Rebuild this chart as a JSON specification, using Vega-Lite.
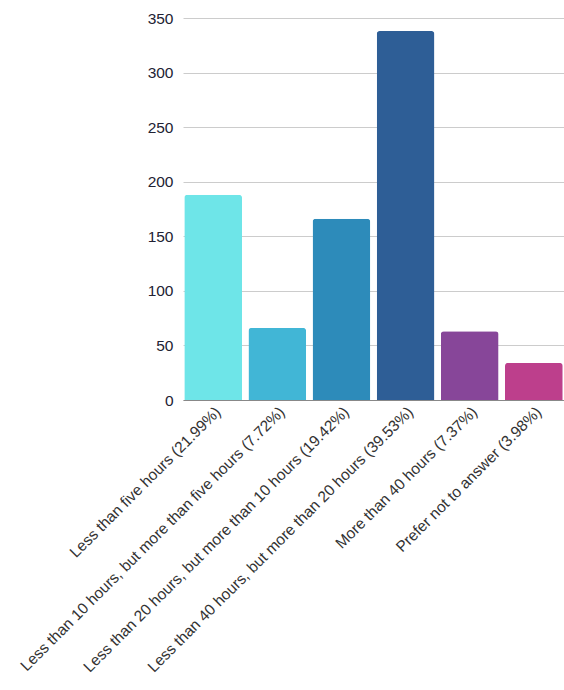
{
  "$schema": "https://vega.github.io/schema/vega-lite/v6.json",
  "autosize": "none",
  "width": 381,
  "height": 382,
  "padding": {"left": 183, "top": 18, "right": 0, "bottom": 290},
  "background": "white",
  "config": {
    "view": {"stroke": null},
    "font": "Liberation Sans"
  },
  "data": {
    "values": [
      {"category": "Less than five hours (21.99%)", "count": 188, "color": "#6EE5E8"},
      {"category": "Less than 10 hours, but more than five hours (7.72%)", "count": 66, "color": "#41B6D6"},
      {"category": "Less than 20 hours, but more than 10 hours (19.42%)", "count": 166, "color": "#2D8BBA"},
      {"category": "Less than 40 hours, but more than 20 hours (39.53%)", "count": 338, "color": "#2E5E96"},
      {"category": "More than 40 hours (7.37%)", "count": 63, "color": "#874699"},
      {"category": "Prefer not to answer (3.98%)", "count": 34, "color": "#BD3F8C"}
    ]
  },
  "mark": {"type": "bar", "cornerRadiusTopLeft": 3, "cornerRadiusTopRight": 3},
  "encoding": {
    "x": {
      "field": "category",
      "type": "nominal",
      "sort": null,
      "title": null,
      "scale": {"paddingInner": 0.1, "paddingOuter": 0.02},
      "axis": {
        "labelAngle": -45,
        "labelFontSize": 15.5,
        "labelColor": "#333333",
        "labelLimit": 500,
        "ticks": false,
        "domainColor": "#888888",
        "labelPadding": 4
      }
    },
    "y": {
      "field": "count",
      "type": "quantitative",
      "title": null,
      "scale": {"domain": [0, 350]},
      "axis": {
        "values": [0, 50, 100, 150, 200, 250, 300, 350],
        "labelFontSize": 15.5,
        "labelColor": "#222233",
        "ticks": false,
        "domain": false,
        "gridColor": "#cccccc",
        "labelPadding": 10
      }
    },
    "color": {"field": "color", "type": "nominal", "scale": null, "legend": null}
  }
}
